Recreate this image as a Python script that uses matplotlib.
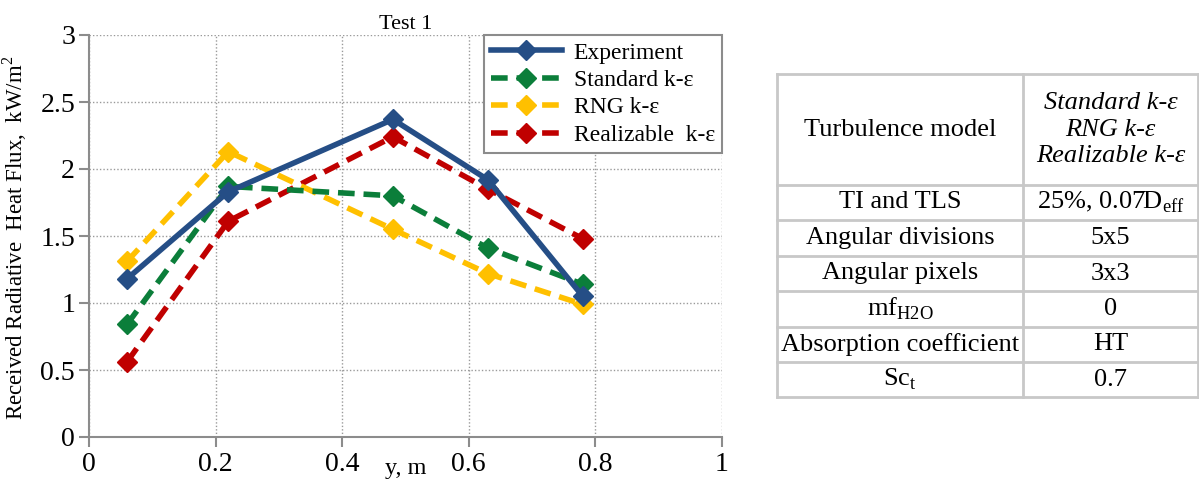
import matplotlib.pyplot as plt
from matplotlib.lines import Line2D

plt.rcParams['font.family'] = ['Liberation Serif', 'DejaVu Serif']
plt.rcParams['mathtext.fontset'] = 'custom'
plt.rcParams['mathtext.rm'] = 'Liberation Serif'

# data
y_pos = [0.06, 0.22, 0.48, 0.63, 0.78]
experiment = [1.18, 1.83, 2.37, 1.92, 1.05]
standard_ke = [0.84, 1.87, 1.80, 1.41, 1.14]
rng_ke = [1.31, 2.13, 1.55, 1.22, 0.99]
realizable_ke = [0.56, 1.61, 2.24, 1.85, 1.48]

series_names = ['Experiment', 'Standard k-ε', 'RNG k-ε', 'Realizable  k-ε']
series_colors = ['#254E86', '#0B7E3A', '#FFC000', '#C00000']

table_rows = [
    ('Turbulence model', 'Standard k-ε\nRNG k-ε\nRealizable k-ε'),
    ('TI and TLS', '25%, 0.07D$_{\\mathrm{eff}}$'),
    ('Angular divisions', '5x5'),
    ('Angular pixels', '3x3'),
    ('mf$_{\\mathrm{H2O}}$', '0'),
    ('Absorption coefficient', 'HT'),
    ('Sc$_{\\mathrm{t}}$', '0.7'),
]

W, H = 1199, 488
fig = plt.figure(figsize=(W / 100, H / 100), dpi=100)
ax = fig.add_axes([89 / W, 1 - 437 / H, (722 - 89) / W, (437 - 35) / H])

all_series = [experiment, standard_ke, rng_ke, realizable_ke]
for i, (vals, name, col) in enumerate(zip(all_series, series_names, series_colors)):
    ls = '-' if i == 0 else (0, (3, 1.6))
    ax.plot(y_pos, vals, linestyle=ls, color=col, lw=4, marker='D',
            markersize=10, label=name, zorder=3 + (4 - i) * 0.1)

ax.set_xlim(0, 1)
ax.set_ylim(0, 3)
ax.set_xticks([0, 0.2, 0.4, 0.6, 0.8, 1])
ax.set_xticklabels(['0', '0.2', '0.4', '0.6', '0.8', '1'])
ax.set_yticks([0, 0.5, 1, 1.5, 2, 2.5, 3])
ax.set_yticklabels(['0', '0.5', '1', '1.5', '2', '2.5', '3'])
ax.grid(True, linestyle=(0, (1, 1.5)), color='#9a9a9a', lw=1)
for s in ['top', 'right']:
    ax.spines[s].set_visible(False)
for s in ['left', 'bottom']:
    ax.spines[s].set_color('#8c8c8c')
    ax.spines[s].set_linewidth(1.5)
ax.tick_params(direction='out', length=7, width=1.5, color='#8c8c8c',
               labelsize=20, pad=3)
ax.tick_params(axis='x', pad=4)

ax.set_title('Test 1', fontsize=16, pad=4)
ax.set_xlabel('y, m', fontsize=17.5, labelpad=-14)
ax.set_ylabel('Received Radiative  Heat Flux,  kW/m$^2$', fontsize=16.5)
ax.yaxis.set_label_coords(-0.095, 0.495)

leg = ax.legend(loc='upper right', fontsize=17, numpoints=1, handlelength=3,
                fancybox=False, framealpha=1, borderaxespad=0,
                borderpad=0.3, labelspacing=0.25, handletextpad=0.5)
leg.get_frame().set_edgecolor('#8c8c8c')
leg.get_frame().set_linewidth(1.5)

# table on the right
tax = fig.add_axes([0, 0, 1, 1])
tax.set_xlim(0, W)
tax.set_ylim(H, 0)
tax.axis('off')

x_left, x_mid, x_right = 777, 1023, 1198
row_y = [74, 185, 220, 256, 291, 327, 362, 397]
line_col = '#c8c8c8'
for yy in row_y:
    tax.add_line(Line2D([x_left, x_right], [yy, yy], color=line_col, lw=2))
for xx in [x_left, x_mid, x_right]:
    tax.add_line(Line2D([xx, xx], [row_y[0], row_y[-1]], color=line_col, lw=2))

for r, (left_txt, right_txt) in enumerate(table_rows):
    yc = (row_y[r] + row_y[r + 1]) / 2
    tax.text((x_left + x_mid) / 2, yc, left_txt, ha='center', va='center',
             fontsize=19)
    if r == 0:
        tax.text((x_mid + x_right) / 2, yc, right_txt, ha='center',
                 va='center', fontsize=19, style='italic', linespacing=1.25)
    else:
        tax.text((x_mid + x_right) / 2, yc, right_txt, ha='center',
                 va='center', fontsize=19)

fig.savefig('out.png', dpi=100)
